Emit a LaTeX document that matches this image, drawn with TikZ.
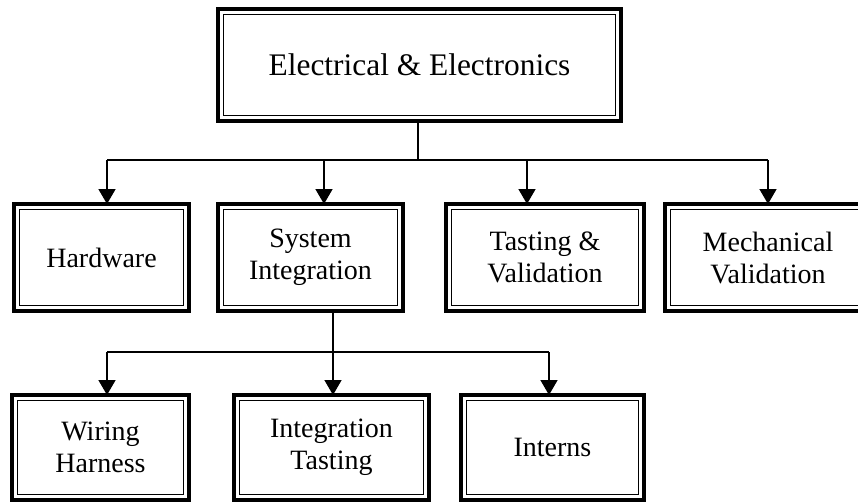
\documentclass[tikz,border=0pt]{standalone}
\usepackage{fontspec}
\setmainfont{Liberation Serif}
\usetikzlibrary{arrows.meta,calc}
\begin{document}
\begin{tikzpicture}[x=1pt,y=-1pt,
  box/.style={draw, line width=4pt, inner sep=0pt, outer sep=0pt, align=center,
    font=\fontsize{28}{32}\selectfont},
  rowtwo/.style={box, minimum height=107},
  rowthree/.style={box, minimum height=105},
  innerline/.style={line width=1.3pt},
  link/.style={line width=1.6pt},
  arr/.style={line width=1.6pt, -{Triangle[width=17pt,length=15pt]}}]
\useasboundingbox (0,0) rectangle (858,503);
\begin{scope}
\clip (0,0) rectangle (858,503);
\node[box, minimum width=403, minimum height=112, font=\fontsize{31.4}{36}\selectfont] (top) at (419.5,65) {Electrical \& Electronics};
\node[rowtwo, minimum width=175] (hw) at (101.5,257.5) {Hardware};
\node[rowtwo, minimum width=185] (si) at (310.5,257.5) {System\\Integration};
\node[rowtwo, minimum width=198] (tv) at (545,257.5) {Tasting \&\\Validation};
\node[rowtwo, minimum width=206] (mv) at (768,257.5) {Mechanical\\Validation};
\node[rowthree, minimum width=177] (wh) at (100.5,447.5) {Wiring\\Harness};
\node[rowthree, minimum width=195] (it) at (331.5,447.5) {Integration\\Tasting};
\node[rowthree, minimum width=183] (in) at (552.5,447.5) {Interns};
\foreach \nn in {top,hw,si,tv,mv,wh,it,in}
  \draw[innerline] ([shift={(5.5,5.5)}]\nn.north west) rectangle ([shift={(-5.5,-5.5)}]\nn.south east);
% first level connectors
\coordinate (bus) at (0,160);
\coordinate (topb) at ([xshift=-1.5]top.south);
\coordinate (hwa) at ([xshift=5.5]hw.north);
\coordinate (sia) at ([xshift=13.5]si.north);
\coordinate (tva) at ([xshift=-18]tv.north);
\coordinate (mva) at (mv.north);
\draw[link] (topb) -- (topb |- bus);
\draw[link] (hwa |- bus) -- (mva |- bus);
\draw[arr] (hwa |- bus) -- (hwa);
\draw[arr] (sia |- bus) -- (sia);
\draw[arr] (tva |- bus) -- (tva);
\draw[arr] (mva |- bus) -- (mva);
% second level connectors
\coordinate (bustwo) at (0,352);
\coordinate (sib) at ([xshift=22.5]si.south);
\coordinate (wha) at ([xshift=6.5]wh.north);
\coordinate (ita) at ([xshift=1.5]it.north);
\coordinate (ina) at ([xshift=-3.5]in.north);
\draw[link] (sib) -- (sib |- bustwo);
\draw[link] (wha |- bustwo) -- (ina |- bustwo);
\draw[arr] (wha |- bustwo) -- (wha);
\draw[arr] (ita |- bustwo) -- (ita);
\draw[arr] (ina |- bustwo) -- (ina);
\end{scope}
\end{tikzpicture}
\end{document}
